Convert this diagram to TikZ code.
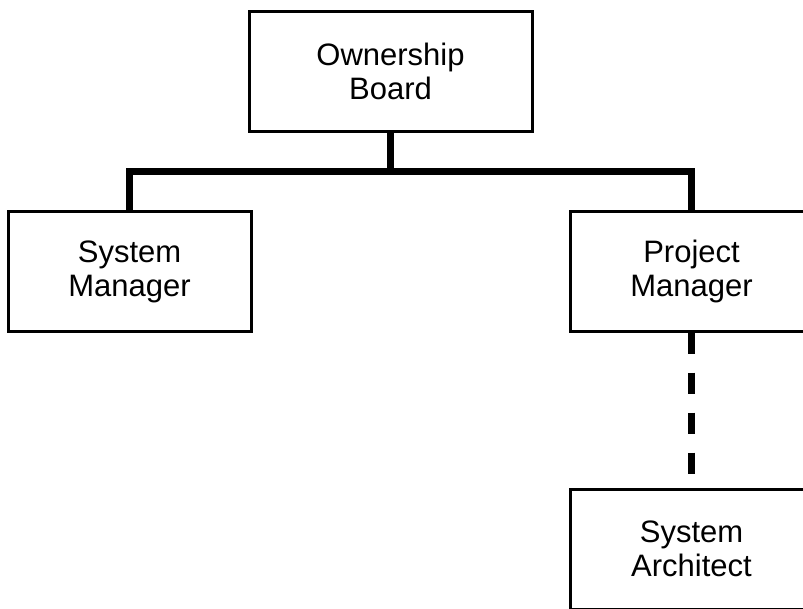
\documentclass[tikz,border=0pt]{standalone}
\usepackage{fontspec}
\setmainfont{Liberation Sans}
\begin{document}
\begin{tikzpicture}[x=1pt,y=-1pt,
    role/.style={draw,line width=3pt,minimum width=243pt,minimum height=120pt,
      inner sep=0pt,align=center,font=\fontsize{31}{34}\selectfont},
    link/.style={line width=7pt}]
    \useasboundingbox (0,0) rectangle (803,608);
    \clip (0,0) rectangle (803,608);
    \node[role,minimum width=283pt] (board) at (390.5,71) {Ownership\\Board};
    \node[role] (sysman) at (129.5,271.5) {System\\Manager};
    \node[role] (projman) at (691.5,271) {Project\\Manager};
    \node[role] (sysarch) at (691.5,549) {System\\Architect};
    \coordinate (bus) at (390.5,171);
    \draw[link] (board.south) -- (bus);
    \draw[link] (sysman.north) |- (bus) -| (projman.north);
    \draw[link,dash pattern=on 21pt off 19pt] (projman.south) -- (sysarch.north);
\end{tikzpicture}
\end{document}
